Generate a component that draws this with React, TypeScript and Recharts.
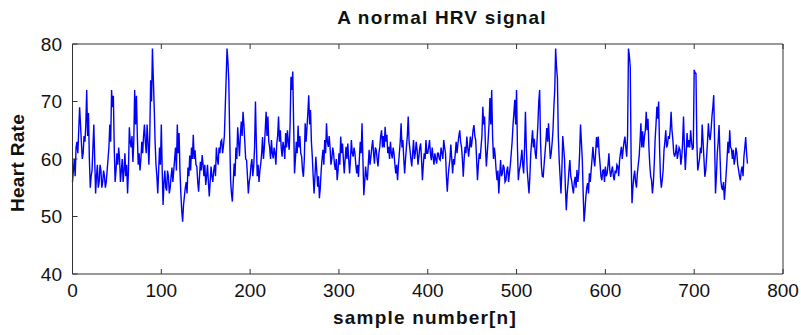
import { LineChart, Line, XAxis, YAxis } from 'recharts'

// heart rate per sample in blocks of 100 samples
const hr000 = [
  56, 58, 60, 57, 62, 63, 61, 65, 69, 66,
  63, 60, 61, 64, 63, 66, 72, 64, 68, 60,
  55, 57, 58, 62, 66, 60, 54, 57, 59, 55,
  56, 59, 58, 55, 56, 58, 57, 55, 56, 58,
  60, 62, 66, 63, 72, 69, 71, 62, 56, 58,
  61, 59, 62, 60, 56, 58, 60, 56, 58, 61,
  57, 59, 54, 58, 65.5, 63, 62, 64, 59.5, 63,
  72, 66, 71, 64, 59, 61, 58, 60, 63, 61,
  64, 66, 63, 61, 66, 63, 59, 64, 73.7, 70,
  79.2, 74, 69, 63, 59, 57, 54, 58, 62, 59,
]
const hr100 = [
  66, 58, 52, 56, 58, 55, 54.5, 58, 57, 54,
  55, 57, 58.5, 56, 58, 60, 62, 58, 66, 61,
  64.5, 58, 54, 51, 49.1, 52, 53.5, 55, 56, 54,
  58.5, 57, 60.6, 58, 62, 60, 64.2, 60, 61.5, 59,
  58.7, 56, 54.3, 57, 59.5, 58, 60.7, 59, 57, 59,
  55.5, 57, 59, 56, 53.5, 56, 58.7, 57, 56, 58,
  59, 57, 62, 60, 59, 62, 61, 63, 63.3, 61,
  62.3, 64, 69, 74, 79.2, 77, 73.5, 64, 56.3, 54,
  52.6, 56, 59.2, 57, 62, 60, 65.5, 63, 60.5, 64,
  66.5, 64, 68.2, 66, 63, 60, 59.8, 57, 54, 56,
]
const hr200 = [
  57, 59, 60, 57, 58.7, 62, 70, 63, 57, 59,
  56, 58, 59.2, 61, 63.8, 60, 62, 65, 68.2, 64,
  67.4, 63, 62, 60, 63.3, 61, 60.1, 62, 61, 59,
  62.7, 64, 67.4, 63, 65, 62, 60.4, 63, 62, 60,
  64.5, 62, 65, 63, 61.6, 66, 74.3, 72, 75.2, 66,
  57.5, 60, 63, 61, 65.8, 62, 64, 61, 60.4, 58,
  56.9, 60, 66.2, 63, 65.5, 68, 71.1, 66, 68.5, 63,
  60.4, 57, 54, 57, 60.4, 58, 55.2, 57, 53.2, 55,
  58, 60, 61.6, 59, 63.3, 61, 66.2, 63, 62.1, 64,
  62, 59, 60, 62, 61, 59, 58.1, 60, 56.3, 58,
]
const hr300 = [
  61, 59, 63.9, 61, 62.7, 60, 57.5, 60, 62.1, 60,
  62.7, 60, 57.5, 60, 63.3, 61, 60.4, 62, 61, 59,
  57.5, 59, 56.9, 60, 63, 61, 66.2, 60, 53.7, 56,
  58.7, 57, 56.3, 59, 61.6, 59, 60.4, 62, 63.3, 61,
  59.2, 62, 61.6, 60, 58.7, 61, 62.1, 64, 65, 62,
  64, 62, 65.6, 63, 64.2, 61, 62.1, 60, 63, 61,
  60.1, 62, 61, 59, 57.5, 59, 56.3, 59, 61, 63,
  66.2, 62, 63.3, 60, 57.5, 60, 62.1, 64, 67.4, 63,
  61.6, 60, 58.7, 61, 63.3, 60, 61, 63, 61.6, 59,
  60.4, 62, 62.7, 60, 56.3, 59, 61, 60, 63.3, 61,
]
const hr400 = [
  61, 62, 63.3, 61, 59.8, 62, 60.4, 59, 61, 60,
  59.2, 61, 61, 60, 59.8, 62, 61, 60, 63.3, 62,
  61, 57, 54.3, 57, 58.7, 60, 62.5, 60, 57.5, 60,
  59, 61, 63, 61, 62.7, 64, 65, 63, 62.1, 60,
  56.9, 60, 62.1, 61, 63.9, 62, 60.4, 62, 63.9, 62,
  63.3, 65, 65.9, 64, 63.3, 60, 56.3, 59, 61, 60,
  62.1, 64, 69.1, 66, 67.4, 62, 58.7, 61, 63.3, 66,
  70.6, 66, 72, 64, 60, 62, 60.4, 58, 56.3, 58,
  54, 57, 59.8, 57, 57.5, 59, 58.5, 56, 56.3, 58,
  58.7, 56, 57.5, 59, 61, 63, 65.9, 68, 70.3, 66,
]
const hr500 = [
  72, 62, 56.3, 58, 58.7, 60, 61.6, 59, 57.5, 62,
  68.2, 62, 58, 56, 54, 57, 61, 63, 65, 62,
  63.5, 61, 60, 63, 66, 70, 72, 63, 58.7, 57,
  56.9, 59, 61, 63, 65.4, 63, 66.2, 63, 60, 61,
  62.7, 65, 69, 72, 79.2, 76, 74, 64, 59.8, 57,
  54, 58, 64, 62, 60, 55, 51.1, 54, 55.8, 58,
  59.8, 57, 56.3, 55, 54, 56, 56.9, 55, 58.1, 56,
  57.5, 61, 66, 63, 60, 54, 49.1, 51, 53.4, 55,
  55.8, 54, 57.5, 56, 58.1, 60, 62.1, 60, 58.7, 61,
  63.8, 62, 63.9, 61, 59.2, 57, 56.3, 58, 58.1, 56,
]
const hr600 = [
  58.7, 57, 57.5, 59, 61, 58, 56.9, 58, 58.7, 57,
  56.3, 58, 57.5, 59, 58.7, 57, 59.8, 61, 62.1, 60,
  61.6, 63, 63.9, 62, 60.4, 64, 79.2, 78, 76, 60,
  52.3, 55, 56.9, 58, 56, 55, 57.5, 59, 60.4, 63,
  66.2, 62, 64.8, 62, 63.9, 65, 68.2, 65, 67, 62,
  59, 57, 56.3, 54, 55.8, 59, 63.3, 66, 69.1, 67,
  70, 62, 56.9, 55, 56.3, 58, 61.5, 63, 65, 62,
  62.5, 64, 63.5, 65, 68.2, 65, 63.3, 61, 60.4, 61,
  62.5, 60, 61, 62, 61.6, 59, 60.4, 63, 67.4, 62,
  58.1, 61, 64.5, 62, 63.3, 62, 65, 63, 61.6, 62,
]
const hr700 = [
  75.5, 75, 74.9, 63, 58, 59, 60, 62, 61, 66,
  63, 60, 56.9, 58, 60.4, 63, 66.2, 64, 63.3, 65,
  67.4, 69, 71.1, 63, 54, 57, 61, 63, 65.9, 61,
  56.3, 55, 54.6, 56, 52.9, 55, 57.5, 60, 63, 61,
  65, 62, 61.8, 60, 61.6, 59, 60, 62, 61, 59,
  58.1, 57, 56.3, 58, 58.7, 57, 60.4, 62, 63.8, 61,
  59.2,
]

const xTicks = [0, 100, 200, 300, 400, 500, 600, 700, 800]
const yTicks = [40, 50, 60, 70, 80]

const hr = [...hr000, ...hr100, ...hr200, ...hr300, ...hr400, ...hr500, ...hr600, ...hr700]
const data = hr.map((v, i) => ({ n: i, hr: v }))

const font = '"Liberation Sans", Arial, sans-serif'
const tick = { fill: '#111', fontSize: 19, fontFamily: font }
const axisCol = '#333'
const blank = () => ''
const lbl = { position: 'absolute' as const, fontSize: 19, fontWeight: 700, color: '#111', lineHeight: '22px', whiteSpace: 'nowrap' as const }

export default function App() {
  return (
    <div style={{position:'absolute',left:0,top:0,width:801,height:335,background:'#fff',fontFamily:font}}>
      <div style={{...lbl,left:242,top:7,width:400,textAlign:'center',letterSpacing:1.2}}>
        A normal HRV signal
      </div>
      <div style={{...lbl,left:18,top:163,transform:'translate(-50%,-50%) rotate(-90deg)',letterSpacing:0.3}}>
        Heart Rate
      </div>
      <div style={{...lbl,left:225,top:307,width:400,textAlign:'center',letterSpacing:1.2}}>
        sample number[n]
      </div>
      <LineChart width={801} height={335} data={data} margin={{top:43,right:17,bottom:31,left:32.5}} style={{position:'absolute',left:0,top:0}}>
        <XAxis dataKey="n" type="number" domain={[0,800]} ticks={xTicks} interval={0} height={30}
          tick={tick} tickSize={-5} tickMargin={15} axisLine={{stroke:axisCol}} tickLine={{stroke:axisCol}}/>
        <XAxis xAxisId="top" orientation="top" dataKey="n" type="number" domain={[0,800]} ticks={xTicks} interval={0} height={1}
          tick={tick} tickFormatter={blank} tickSize={-5} axisLine={{stroke:axisCol}} tickLine={{stroke:axisCol}}/>
        <YAxis type="number" domain={[40,80]} ticks={yTicks} interval={0} width={40}
          tick={tick} tickSize={-5} tickMargin={15.5} axisLine={{stroke:axisCol}} tickLine={{stroke:axisCol}}/>
        <YAxis yAxisId="right" orientation="right" type="number" domain={[40,80]} ticks={yTicks} interval={0} width={1}
          tick={tick} tickFormatter={blank} tickSize={-5} axisLine={{stroke:axisCol}} tickLine={{stroke:axisCol}}/>
        <Line type="linear" dataKey="hr" stroke="#0000FF" strokeWidth={1.4} dot={false} isAnimationActive={false}/>
      </LineChart>
    </div>
  )
}
